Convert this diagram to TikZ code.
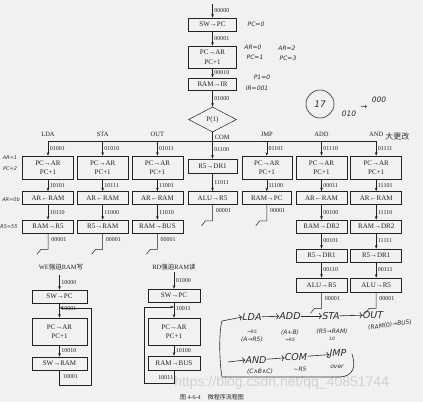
\documentclass[tikz,border=0pt]{standalone}
\usepackage{fontspec}
\setmainfont{Liberation Serif}
\newfontfamily\cjk{Noto Sans CJK SC}
\newfontfamily\handfam{DejaVu Sans}
\newfontfamily\wmfam{Liberation Sans}
\usetikzlibrary{shapes.geometric,arrows.meta}
\definecolor{ink}{RGB}{35,35,35}
\definecolor{pen}{RGB}{45,45,50}
\definecolor{paper}{RGB}{241,241,239}
\newcommand\dgboxfont{\fontsize{7}{9.5}\selectfont}
\newcommand\dgcodefont{\fontsize{6}{7}\selectfont}
\newcommand\dglblfont{\fontsize{6.5}{7}\selectfont}
\newcommand\dgend[2]{%
  \draw[ink] (#1.south) -- ++(0,16) coordinate (#1e) -- ++(-7,0) -- ++(-4,5);
  \path (#1.south) ++(1.5,6) node[code] {#2};}
\begin{document}
\begin{tikzpicture}[x=1pt,y=-1pt,line width=0.5pt,
  blk/.style={draw=ink,minimum width=51pt,minimum height=13pt,inner sep=0pt,font=\dgboxfont,text=ink,align=center},
  blk2/.style={blk,minimum height=23pt},
  arr/.style={draw=ink,-{Stealth[length=3.6pt,width=2.6pt]}},
  code/.style={font=\dgcodefont,anchor=west,inner sep=0pt,xshift=1.5pt,text=ink},
  lbl/.style={font=\dglblfont,inner sep=0pt,text=ink},
  hand/.style={font=\handfam\itshape\fontsize{6}{7}\selectfont,inner sep=0pt,text=pen},
  bighand/.style={font=\handfam\itshape\fontsize{9.5}{10}\selectfont,inner sep=0pt,text=pen},
  penline/.style={draw=pen,line width=0.6pt}]
\fill[paper] (0,0) rectangle (423,402);
\useasboundingbox (0,0) rectangle (423,402);
% watermark
\node[font=\wmfam\fontsize{14}{14}\selectfont,text=black!18,anchor=west,inner sep=0pt] (wm) at (174,383) {https://blog.csdn.net/qq\_40851744};

% ---------- top column ----------
\coordinate (s0) at (212.5,4);
\node[blk,minimum width=48pt] (sw0) at (212.5,24.5) {SW→PC};
\node[blk2,minimum width=48pt,minimum height=22pt] (pc0) at (212.5,57) {PC→AR\\PC+1};
\node[blk,minimum width=48pt,minimum height=12.5pt] (ir0) at (212.5,84) {RAM→IR};
\node[diamond,draw=ink,minimum width=48pt,minimum height=25pt,inner sep=0pt,font=\dgboxfont,text=ink] (p1) at (212.5,119.5) {P(1)};
\draw[arr] (s0) -- node[code]{00000} (sw0.north);
\draw[arr] (sw0.south) -- node[code]{00001} (pc0.north);
\draw[arr] (pc0.south) -- node[code]{00010} (ir0.north);
\draw[arr] (ir0.south) -- node[code]{01000} (p1.north);

% ---------- branch ----------
\coordinate (tLDA) at (48,141);
\coordinate (tSTA) at (102.7,141);
\coordinate (tOUT) at (157.4,141);
\coordinate (tCOM) at (212.5,141);
\coordinate (tJMP) at (266.8,141);
\coordinate (tADD) at (321.5,141);
\coordinate (tAND) at (376.2,141);
\draw[ink] (tLDA) -- (tAND);
\draw[ink] (p1.south) -- (tCOM);
\node[lbl] (lLDA) at (48,134.5) {LDA};
\node[lbl] (lSTA) at (102.7,134.5) {STA};
\node[lbl] (lOUT) at (157.4,134.5) {OUT};
\node[lbl,anchor=west] (lCOM) at (214.5,137) {COM};
\node[lbl] (lJMP) at (266.8,134.5) {JMP};
\node[lbl] (lADD) at (321.5,134.5) {ADD};
\node[lbl] (lAND) at (376.2,134.5) {AND};

% ---------- LDA ----------
\node[blk2] (a1) at (48,167.5) {PC→AR\\PC+1};
\node[blk] (a2) at (48,198) {AR←RAM};
\node[blk] (a3) at (48,226.5) {RAM→R5};
\draw[arr] (tLDA) -- node[code]{01001} (a1.north);
\draw[arr] (a1.south) -- node[code]{10101} (a2.north);
\draw[arr] (a2.south) -- node[code]{10110} (a3.north);
\dgend{a3}{00001}
% ---------- STA ----------
\node[blk2] (b1) at (102.7,167.5) {PC→AR\\PC+1};
\node[blk] (b2) at (102.7,198) {AR←RAM};
\node[blk] (b3) at (102.7,226.5) {R5→RAM};
\draw[arr] (tSTA) -- node[code]{01010} (b1.north);
\draw[arr] (b1.south) -- node[code]{10111} (b2.north);
\draw[arr] (b2.south) -- node[code]{11000} (b3.north);
\dgend{b3}{00001}
% ---------- OUT ----------
\node[blk2] (c1) at (157.4,167.5) {PC→AR\\PC+1};
\node[blk] (c2) at (157.4,198) {AR←RAM};
\node[blk] (c3) at (157.4,226.5) {RAM→BUS};
\draw[arr] (tOUT) -- node[code]{01011} (c1.north);
\draw[arr] (c1.south) -- node[code]{11001} (c2.north);
\draw[arr] (c2.south) -- node[code]{11010} (c3.north);
\dgend{c3}{00001}
% ---------- COM ----------
\node[blk,minimum width=49pt,minimum height=14pt] (d1) at (212.5,166) {R5→DR1};
\node[blk,minimum width=49pt] (d2) at (212.5,198) {ALU→R5};
\draw[arr] (tCOM) -- node[code]{01100} (d1.north);
\draw[arr] (d1.south) -- node[code]{11011} (d2.north);
\dgend{d2}{00001}
% ---------- JMP ----------
\node[blk2,minimum width=50pt] (e1) at (266.8,167.5) {PC→AR\\PC+1};
\node[blk,minimum width=49pt] (e2) at (266.8,198) {RAM→PC};
\draw[arr] (tJMP) -- node[code]{01101} (e1.north);
\draw[arr] (e1.south) -- node[code]{11100} (e2.north);
\dgend{e2}{00001}
% ---------- ADD ----------
\node[blk2] (f1) at (321.5,167.5) {PC→AR\\PC+1};
\node[blk] (f2) at (321.5,198) {AR←RAM};
\node[blk] (f3) at (321.5,226.5) {RAM→DR2};
\node[blk] (f4) at (321.5,255.5) {R5→DR1};
\node[blk,minimum height=14pt] (f5) at (321.5,285) {ALU→R5};
\draw[arr] (tADD) -- node[code]{01110} (f1.north);
\draw[arr] (f1.south) -- node[code]{00011} (f2.north);
\draw[arr] (f2.south) -- node[code]{00100} (f3.north);
\draw[arr] (f3.south) -- node[code]{00101} (f4.north);
\draw[arr] (f4.south) -- node[code]{00110} (f5.north);
\dgend{f5}{00001}
% ---------- AND ----------
\node[blk2] (g1) at (376.2,167.5) {PC→AR\\PC+1};
\node[blk] (g2) at (376.2,198) {AR←RAM};
\node[blk] (g3) at (376.2,226.5) {RAM→DR2};
\node[blk] (g4) at (376.2,255.5) {R5→DR1};
\node[blk,minimum height=14pt] (g5) at (376.2,285) {ALU→R5};
\draw[arr] (tAND) -- node[code]{01111} (g1.north);
\draw[arr] (g1.south) -- node[code]{11101} (g2.north);
\draw[arr] (g2.south) -- node[code]{11110} (g3.north);
\draw[arr] (g3.south) -- node[code]{11111} (g4.north);
\draw[arr] (g4.south) -- node[code]{00111} (g5.north);
\dgend{g5}{00001}

% ---------- WE forced RAM write ----------
\node[lbl] (we) at (61,267) {WE{\cjk 强迫}RAM{\cjk 写}};
\coordinate (w0) at (59.5,275);
\node[blk,minimum width=55pt] (w1) at (59.5,296.5) {SW→PC};
\node[blk2,minimum width=55pt,minimum height=27pt] (w2) at (59.5,331.5) {PC→AR\\PC+1};
\node[blk,minimum width=55pt] (w3) at (59.5,363.5) {SW→RAM};
\draw[arr] (w0) -- node[code]{10000} (w1.north);
\draw[arr] (w1.south) -- node[code,yshift=1.5pt]{10001} (w2.north);
\draw[arr] (w2.south) -- node[code]{10010} (w3.north);
\coordinate (wj) at (59.5,308);
\draw[arr] (w3.south) -- ++(0,15) -- ++(31.5,0) |- (wj);
\path (w3.south) ++(1.5,6.5) node[code] {10001};

% ---------- RD forced RAM read ----------
\node[lbl] (rd) at (174,267) {RD{\cjk 强迫}RAM{\cjk 读}};
\coordinate (r0) at (174,272);
\node[blk,minimum width=52pt] (r1) at (174,295.5) {SW→PC};
\node[blk2,minimum width=52pt,minimum height=27pt] (r2) at (174,331.5) {PC→AR\\PC+1};
\node[blk,minimum width=52pt,minimum height=14pt] (r3) at (174,363) {RAM→BUS};
\draw[arr] (r0) -- node[code]{01000} (r1.north);
\draw[arr] (r1.south) -- node[code,yshift=1.5pt]{10011} (r2.north);
\draw[arr] (r2.south) -- node[code]{10100} (r3.north);
\coordinate (rj) at (174,307);
\draw[arr] (r3.south) -- ++(0,13) -- ++(-30,0) |- (rj);
\path (r3.south) ++(-2,7) node[code,anchor=east,xshift=0pt] {10011};

% caption
\node[font=\fontsize{6}{7}\selectfont,text=ink,inner sep=0pt] (cap) at (212,397) {{\cjk 图}\ 4-6-4\hspace{1.2em}{\cjk 微程序流程图}};

% ---------- handwritten notes ----------
\node[hand] (h1) at (256,24) {PC=0};
\node[hand] (h2) at (253,47) {AR=0};
\node[hand] (h3) at (255,57.5) {PC=1};
\node[hand] (h4) at (287,48) {AR=2};
\node[hand] (h5) at (288,58.5) {PC=3};
\node[hand] (h6) at (262,77) {P1=0};
\node[hand] (h7) at (257,88) {IR=001};
\node[penline,draw,circle,minimum size=28pt,inner sep=0pt,font=\handfam\itshape\fontsize{9}{10}\selectfont,text=pen] (h8) at (320,104) {17};
\node[hand,font=\handfam\itshape\fontsize{7.5}{8}\selectfont] (h9a) at (349,114) {010};
\node[hand,font=\handfam\itshape\fontsize{8}{8}\selectfont] (h9b) at (364,107) {→};
\node[hand,font=\handfam\itshape\fontsize{7.5}{8}\selectfont] (h9c) at (379,100) {000};
\node[font=\cjk\fontsize{8}{9}\selectfont,text=pen,inner sep=0pt,anchor=west] (h10) at (385,136) {大更改};
\node[hand,font=\handfam\itshape\fontsize{5}{6}\selectfont] (h11) at (10,158) {AR=1};
\node[hand,font=\handfam\itshape\fontsize{5}{6}\selectfont] (h12) at (10,169) {PC=2};
\node[hand,font=\handfam\itshape\fontsize{5}{6}\selectfont] (h13) at (11,200) {AR=0b};
\node[hand,font=\handfam\itshape\fontsize{5}{6}\selectfont] (h14) at (9,227) {R5=55};
% bottom-right flow
\node[bighand] (fLDA) at (252,317) {LDA};
\node[bighand] (fADD) at (290,316) {ADD};
\node[bighand] (fSTA) at (331,316) {STA};
\node[bighand] (fOUT) at (373,315) {OUT};
\node[bighand] (fAND) at (256,360) {AND};
\node[bighand] (fCOM) at (296,357) {COM};
\node[bighand] (fJMP) at (338,354) {JMP};
\draw[penline,->] (fLDA) -- (fADD);
\draw[penline,->] (fADD) -- (fSTA);
\draw[penline,->] (fSTA) -- (fOUT);
\draw[penline,->] (fAND) -- (fCOM);
\draw[penline,->] (fCOM) -- (fJMP);
\node[hand,font=\handfam\itshape\fontsize{4.5}{5}\selectfont] (n1) at (252,332) {→R5};
\node[hand] (n2) at (252,340) {(A→R5)};
\node[hand] (n3) at (290,333) {(A+B)};
\node[hand,font=\handfam\itshape\fontsize{4.5}{5}\selectfont] (n4) at (290,340) {→R5};
\node[hand] (n5) at (332,332) {(R5→RAM)};
\node[hand,font=\handfam\itshape\fontsize{4.5}{5}\selectfont] (n6) at (332,339) {10};
\node[hand,rotate=8] (n7) at (390,325) {(RAM(0)→BUS)};
\node[hand] (n8) at (260,372) {(C∧B∧C)};
\node[hand] (n9) at (300,369) {\textasciitilde R5};
\node[hand] (n10) at (337,367) {over};
\coordinate (q1) at (352,354);
\coordinate (q2) at (222,377);
\coordinate (q3) at (228,362);
\draw[penline,->] (q1) .. controls (356,366) and (354,376) .. (340,377) -- (q2) .. controls (219,360) and (219,330) .. (222,321) -- (fLDA.west);
\draw[penline,->] (q3) -- (fAND.west);
\end{tikzpicture}
\end{document}
